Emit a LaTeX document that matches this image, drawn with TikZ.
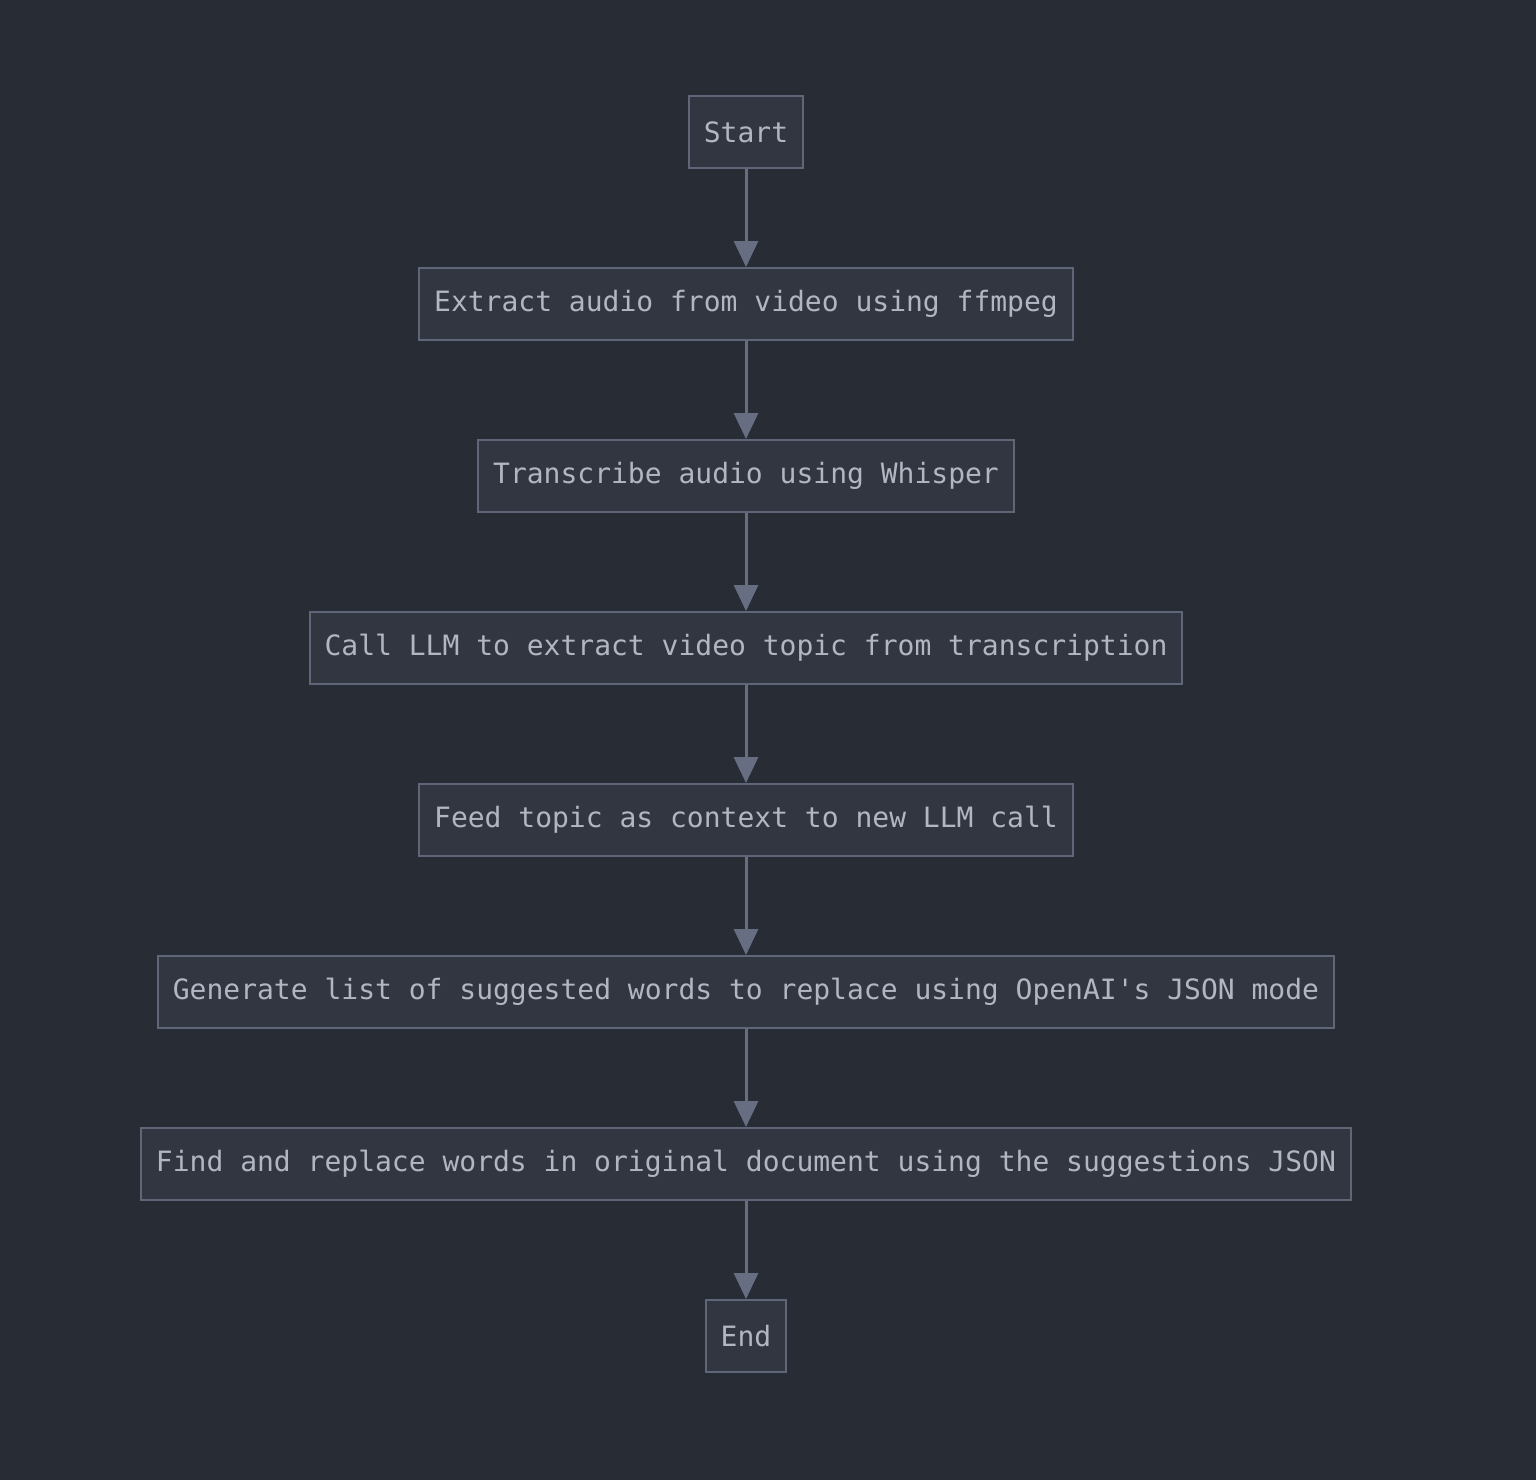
\documentclass[tikz,border=0pt]{standalone}
\usepackage{fontspec}
\setmonofont{DejaVu Sans Mono}
\usepackage{tikz}
\usetikzlibrary{arrows.meta,positioning}
\definecolor{bgdark}{HTML}{282C34}
\definecolor{boxfill}{HTML}{323641}
\definecolor{boxline}{HTML}{5F6677}
\definecolor{arrowgray}{HTML}{676E82}
\definecolor{txtgray}{HTML}{B0B6C2}

\begin{document}
\begin{tikzpicture}[node distance=86pt,on grid,
  stepbox/.style={draw=boxline,line width=1pt,fill=boxfill,text=txtgray,
    font=\ttfamily\fontsize{14}{16}\selectfont,
    minimum height=36pt,inner xsep=7.5pt,inner ysep=0pt},
  flow/.style={-{Triangle[width=12pt,length=13pt]},color=arrowgray,line width=1.5pt}]
  \useasboundingbox (0,0) rectangle (768pt,-740pt);
  \fill[bgdark] (0,0) rectangle (768pt,-740pt);
  \node[stepbox] (start) at (373pt,-66pt) {Start};
  \node[stepbox] (extract) [below = of start] {Extract audio from video using ffmpeg};
  \node[stepbox] (transcribe) [below = of extract] {Transcribe audio using Whisper};
  \node[stepbox] (topic) [below = of transcribe] {Call LLM to extract video topic from transcription};
  \node[stepbox] (feed) [below = of topic] {Feed topic as context to new LLM call};
  \node[stepbox] (suggest) [below = of feed] {Generate list of suggested words to replace using OpenAI's JSON mode};
  \node[stepbox] (replace) [below = of suggest] {Find and replace words in original document using the suggestions JSON};
  \node[stepbox] (end) [below = of replace] {End};
  \path[flow]
  (start) edge (extract)
  (extract) edge (transcribe)
  (transcribe) edge (topic)
  (topic) edge (feed)
  (feed) edge (suggest)
  (suggest) edge (replace)
  (replace) edge (end)
  ;
\end{tikzpicture}
\end{document}
